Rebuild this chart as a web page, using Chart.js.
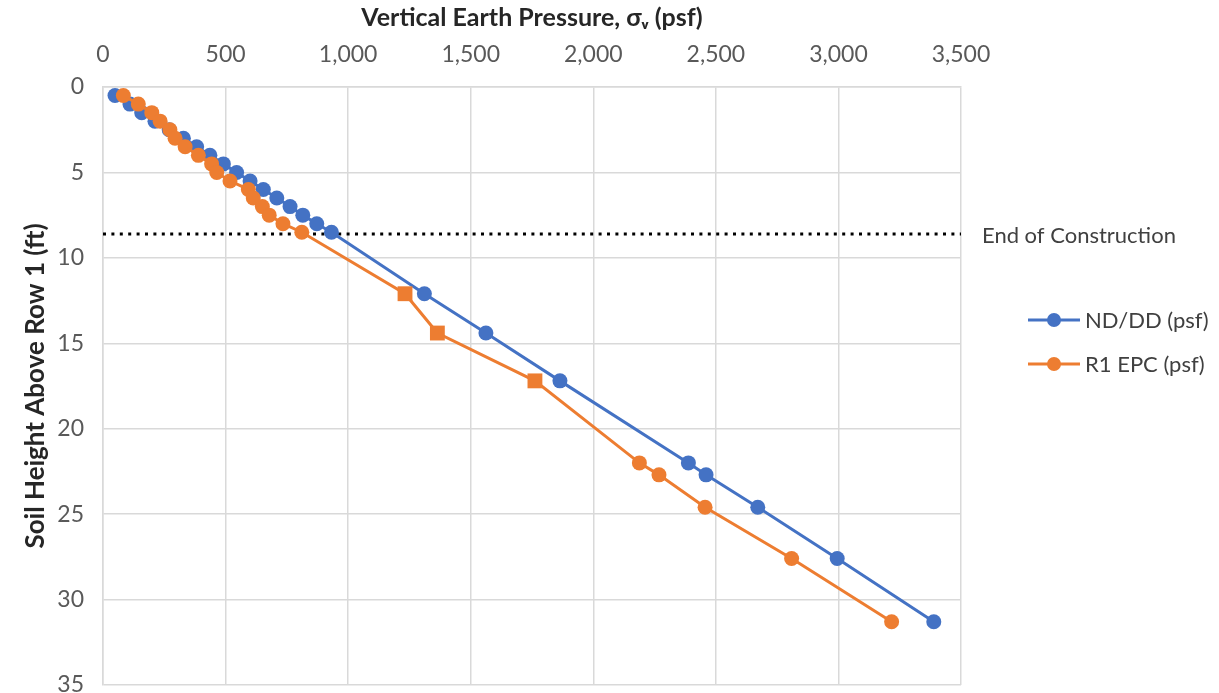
<!DOCTYPE html>
<html>
<head>
<meta charset="utf-8">
<script src="https://cdn.jsdelivr.net/npm/chart.js@4/dist/chart.umd.min.js"></script>
<style>
  html, body { margin: 0; padding: 0; background: #ffffff; }
  #wrap { width: 1219px; height: 693px; position: relative; }
</style>
</head>
<body>
<div id="wrap"><canvas id="chart"></canvas></div>
<script>
// Soil height above row 1 (ft) for each reading
const soilHeights = [0.5, 1, 1.5, 2, 2.5, 3, 3.5, 4, 4.5, 5, 5.5, 6, 6.5, 7, 7.5, 8, 8.5,
                     12.1, 14.4, 17.2, 22.0, 22.7, 24.6, 27.6, 31.3];

// Vertical earth pressure, ND/DD (psf)
const ndddPressure = [49, 110, 158, 212, 270, 328, 382, 436, 491, 545, 600, 654, 709, 763, 815, 872, 932,
                      1311, 1562, 1864, 2388, 2460, 2671, 2995, 3389];

// Vertical earth pressure, R1 EPC (psf)
const r1epcPressure = [83, 144, 199, 233, 273, 294, 335, 389, 443, 464, 518, 593, 613, 650, 678, 734, 811,
                       1232, 1364, 1762, 2188, 2268, 2456, 2809, 3217];

// Marker shape for each R1 EPC reading
const r1epcMarkers = ['circle', 'circle', 'circle', 'circle', 'circle', 'circle', 'circle', 'circle', 'circle',
                      'circle', 'circle', 'circle', 'circle', 'circle', 'circle', 'circle', 'circle',
                      'rect', 'rect', 'rect', 'circle', 'circle', 'circle', 'circle', 'circle'];

// Height at end of construction (ft)
const endOfConstructionHeight = 8.6;

// Axis ticks
const pressureTicks = [0, 500, 1000, 1500, 2000, 2500, 3000, 3500];
const heightTicks = [0, 5, 10, 15, 20, 25, 30, 35];

const BLUE = '#4472C4';
const ORANGE = '#ED7D31';
const FONT = 'Lato, "Open Sans", sans-serif';

const toPoints = (xs) => xs.map((x, i) => ({ x: x, y: soilHeights[i] }));

// Side annotations: end-of-construction label and the series legend
const sideNotes = {
  id: 'sideNotes',
  afterDraw(chart) {
    const { ctx, chartArea, scales } = chart;
    ctx.save();
    ctx.textBaseline = 'middle';
    ctx.textAlign = 'left';
    ctx.font = '22px ' + FONT;
    ctx.fillStyle = '#404040';
    const yLine = scales.y.getPixelForValue(endOfConstructionHeight);
    ctx.fillText('End of Construction', chartArea.right + 21, yLine + 2);

    const series = chart.data.datasets.filter(d => d.inLegend);
    const x0 = chartArea.right + 67;
    series.forEach((ds, i) => {
      const y = 320 + i * 44;
      ctx.strokeStyle = ds.borderColor;
      ctx.lineWidth = 3;
      ctx.beginPath();
      ctx.moveTo(x0, y);
      ctx.lineTo(x0 + 52, y);
      ctx.stroke();
      ctx.fillStyle = ds.backgroundColor;
      ctx.beginPath();
      ctx.arc(x0 + 26, y, 7, 0, Math.PI * 2);
      ctx.fill();
      ctx.fillStyle = '#404040';
      ctx.fillText(ds.label, x0 + 57, y + 1);
    });
    ctx.restore();
  }
};

new Chart(document.getElementById('chart'), {
  type: 'scatter',
  data: {
    datasets: [
      {
        label: 'ND/DD (psf)',
        inLegend: true,
        data: toPoints(ndddPressure),
        showLine: true,
        borderColor: BLUE,
        backgroundColor: BLUE,
        borderWidth: 3,
        pointRadius: 7.5,
        pointHoverRadius: 7.5,
        pointBorderWidth: 0,
        pointStyle: 'circle',
        order: 2
      },
      {
        label: 'R1 EPC (psf)',
        inLegend: true,
        data: toPoints(r1epcPressure),
        showLine: true,
        borderColor: ORANGE,
        backgroundColor: ORANGE,
        borderWidth: 3,
        pointRadius: r1epcMarkers.map(m => m === 'rect' ? 10.5 : 7.5),
        pointHoverRadius: r1epcMarkers.map(m => m === 'rect' ? 10.5 : 7.5),
        pointBorderWidth: 0,
        pointStyle: r1epcMarkers,
        order: 1
      },
      {
        label: 'End of Construction',
        inLegend: false,
        data: [{ x: pressureTicks[0], y: endOfConstructionHeight },
               { x: pressureTicks[pressureTicks.length - 1], y: endOfConstructionHeight }],
        showLine: true,
        borderColor: '#000000',
        borderWidth: 3,
        borderDash: [3, 5.4],
        pointRadius: 0,
        order: 3
      }
    ]
  },
  options: {
    responsive: true,
    maintainAspectRatio: false,
    animation: false,
    devicePixelRatio: 1,
    layout: { padding: { top: 0, right: 258, bottom: 8, left: 0 } },
    plugins: {
      legend: { display: false },
      tooltip: { enabled: false }
    },
    scales: {
      x: {
        type: 'linear',
        position: 'top',
        min: pressureTicks[0],
        max: pressureTicks[pressureTicks.length - 1],
        afterBuildTicks: (scale) => { scale.ticks = pressureTicks.map(v => ({ value: v })); },
        afterFit: (scale) => {
          scale.height = 87;
          scale.paddingLeft = 0;
          scale.paddingRight = 0;
        },
        grid: { color: '#D9D9D9', lineWidth: 1.5, drawTicks: false },
        border: { display: true, color: '#D9D9D9', width: 1.5 },
        ticks: {
          padding: 19,
          color: '#595959',
          font: { family: FONT, size: 23 },
          maxRotation: 0,
          callback: (v) => v.toLocaleString('en-US')
        },
        title: {
          display: true,
          text: 'Vertical Earth Pressure, σᵥ (psf)',
          color: '#262626',
          font: { family: FONT, size: 25, weight: 'bold' },
          padding: { top: 3, bottom: 0 }
        }
      },
      y: {
        type: 'linear',
        reverse: true,
        min: heightTicks[0],
        max: heightTicks[heightTicks.length - 1],
        afterBuildTicks: (scale) => { scale.ticks = heightTicks.map(v => ({ value: v })); },
        afterFit: (scale) => {
          scale.width = 103;
          scale.paddingTop = 0;
          scale.paddingBottom = 0;
        },
        grid: { color: '#D9D9D9', lineWidth: 1.5, drawTicks: false },
        border: { display: true, color: '#D9D9D9', width: 1.5 },
        ticks: {
          padding: 19,
          color: '#595959',
          font: { family: FONT, size: 23 }
        },
        title: {
          display: true,
          text: 'Soil Height Above Row 1 (ft)',
          color: '#262626',
          font: { family: FONT, size: 26, weight: 'bold' },
          padding: { top: 20, bottom: 0 }
        }
      }
    }
  },
  plugins: [sideNotes]
});
</script>
</body>
</html>
